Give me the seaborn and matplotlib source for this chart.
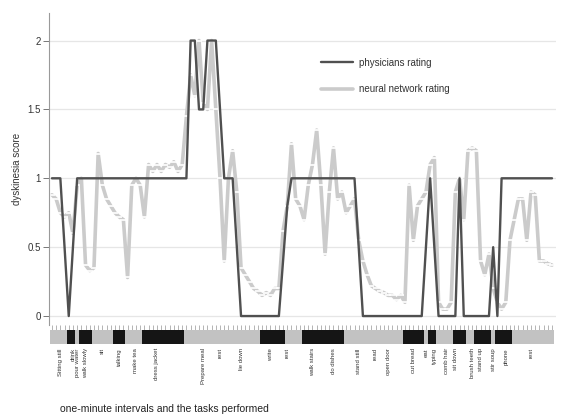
import numpy as np
import pandas as pd
import matplotlib
matplotlib.use("Agg")
import matplotlib.pyplot as plt
import seaborn as sns

# dyskinesia score per one-minute interval
physician = [
    1, 1, 1, 0.5, 0, 0.5, 1, 1, 1, 1,
    1, 1, 1, 1, 1, 1, 1, 1, 1, 1,
    1, 1, 1, 1, 1, 1, 1, 1, 1, 1,
    1, 1, 1, 2, 2, 1.5, 1.5, 2, 2, 2,
    1.5, 1, 1, 1, 0.5, 0, 0, 0, 0, 0,
    0, 0, 0, 0, 0, 0.4, 0.8, 1, 1, 1,
    1, 1, 1, 1, 1, 1, 1, 1, 1, 1,
    1, 1, 1, 0.5, 0, 0, 0, 0, 0, 0,
    0, 0, 0, 0, 0, 0, 0, 0, 0, 0.5,
    1, 0.5, 0, 0, 0, 0, 0, 1, 0, 0,
    0, 0, 0, 0, 0, 0.5, 0, 1, 1, 1,
    1, 1, 1, 1, 1, 1, 1, 1, 1, 1,
]
network = [
    0.88, 0.85, 0.75, 0.72, 0.75, 0.6, 0.95, 1.0, 0.37, 0.33,
    0.35, 1.18, 0.95, 0.85, 0.8, 0.75, 0.72, 0.7, 0.28, 0.95,
    1.0, 0.95, 0.72, 1.1, 1.05, 1.1, 1.05, 1.1, 1.08, 1.12,
    1.05, 1.1, 1.45, 1.75, 1.6, 2.0, 1.55, 1.5, 2.0, 1.5,
    1.0, 0.4, 1.0, 1.2, 0.9, 0.35, 0.3, 0.25, 0.2, 0.18,
    0.15, 0.17, 0.15, 0.2, 0.2, 0.62, 0.8, 1.25, 0.85, 0.8,
    0.7, 0.95, 1.1, 1.35, 0.95, 0.45, 0.9, 1.22, 0.85, 0.9,
    0.75, 0.8, 0.85, 0.55, 0.4, 0.3, 0.22, 0.2, 0.18, 0.17,
    0.15, 0.15, 0.12, 0.15, 0.1, 0.95, 0.55, 0.8, 0.85, 0.9,
    1.1, 1.15, 0.1, 0.05, 0.05, 0.1, 0.9, 1.0, 0.7, 1.2,
    1.22, 1.2, 0.4, 0.3, 0.45, 0.2, 0.1, 0.05, 0.1, 0.55,
    0.7, 0.85, 0.85, 0.55, 0.9, 0.88, 0.4, 0.4, 0.38, 0.37,
]

# tasks: (first minute, last minute) of the tasks marked in black
active_blocks = [(4, 5), (7, 9), (15, 17), (22, 31), (50, 55), (60, 69),
                 (84, 88), (90, 91), (96, 98), (101, 104), (106, 109)]

# task labels and the minute they are written under
task_pos = [2, 5, 6, 8, 12, 16, 20, 25, 36, 40, 45, 52, 56, 62, 67, 73, 77,
            80, 86, 89, 91, 94, 96, 100, 102, 105, 108, 114]
task_names = ["Sitting still", "drink", "pour water", "walk slowly", "sit",
              "talking", "make tea", "dress jacket", "Prepare meal", "rest",
              "lie down", "write", "rest", "walk stairs", "do dishes",
              "stand still", "read", "open door", "cut bread", "eat",
              "typing", "comb hair", "sit down", "brush teeth", "stand up",
              "stir soup", "phone", "rest"]

n = len(physician)
minutes = np.arange(n)
df = pd.DataFrame({
    "minute": np.concatenate([minutes, minutes]),
    "score": np.concatenate([physician, network]),
    "rater": ["physicians rating"] * n + ["neural network rating"] * n,
})

sns.set_style("white")
plt.rcParams["font.family"] = ["Liberation Sans", "DejaVu Sans"]

W, H = 563, 419
fig = plt.figure(figsize=(W / 100, H / 100), dpi=100)

left, right = 49 / W, 556 / W
ax = fig.add_axes([left, 1 - 325 / H, right - left, (325 - 13) / H])

sns.lineplot(data=df, x="minute", y="score", hue="rater",
             hue_order=["neural network rating", "physicians rating"],
             palette={"physicians rating": "#505050",
                      "neural network rating": "#cbcbcb"},
             size="rater",
             sizes={"physicians rating": 1.7, "neural network rating": 2.6},
             style="rater", markers={"physicians rating": "",
                                     "neural network rating": "_"},
             dashes=False, markersize=4, markeredgewidth=1.2,
             ax=ax, legend=True)

xlim = (-0.7, n - 0.05)
ax.set_xlim(*xlim)
ax.set_ylim(-0.065, 2.2)
ax.set_yticks([0, 0.5, 1, 1.5, 2])
ax.set_yticklabels(["0", "0.5", "1", "1.5", "2"])
ax.yaxis.grid(True, color="#e6e6e6", linewidth=0.9)
ax.set_axisbelow(True)
ax.set_xticks(minutes)
ax.set_xticklabels([])
ax.tick_params(axis="x", bottom=True, length=4, width=0.6, color="#a8a8a8",
               direction="out", pad=0)
ax.tick_params(axis="y", length=4, width=0.7, color="#777777", labelsize=7,
               labelcolor="#333333", pad=2, left=True)
for s in ["top", "right", "bottom"]:
    ax.spines[s].set_visible(False)
ax.spines["left"].set_color("#9a9a9a")
ax.spines["left"].set_linewidth(0.8)
ax.set_xlabel("")
ax.set_ylabel("dyskinesia score", fontsize=7, color="#333333", labelpad=4)

handles, labels = ax.get_legend_handles_labels()
order = [labels.index("physicians rating"), labels.index("neural network rating")]
sel = [handles[i] for i in order]
for h in sel:
    h.set_marker("")
leg = ax.legend(sel, [labels[i] for i in order],
                loc="upper left", bbox_to_anchor=(0.52, 0.885), frameon=False,
                fontsize=7, handlelength=3.3, labelspacing=1.7, handletextpad=0.6)
for t in leg.get_texts():
    t.set_color("#333333")

# task band under the time axis
band = np.zeros((1, n))
for a, b in active_blocks:
    band[0, a:b + 1] = 1
bax = fig.add_axes([left, 1 - 344 / H, right - left, 14 / H])
sns.heatmap(band, cmap=["#c2c2c2", "#151515"], cbar=False, ax=bax,
            xticklabels=False, yticklabels=False)
bax.set_xlim(xlim[0] + 0.5, xlim[1] + 0.5)
bax.set_xticks(np.array(task_pos) + 0.5)
bax.set_xticklabels(task_names, rotation=90, fontsize=4.3, color="#333333",
                    va="top")
bax.tick_params(axis="x", length=0, pad=3, bottom=True, labelbottom=True)
bax.set_yticks([])

fig.text(60 / W, 1 - 409 / H, "one-minute intervals and the tasks performed",
         fontsize=7.5, color="#222222", va="center")

fig.savefig("out.png", dpi=100)
